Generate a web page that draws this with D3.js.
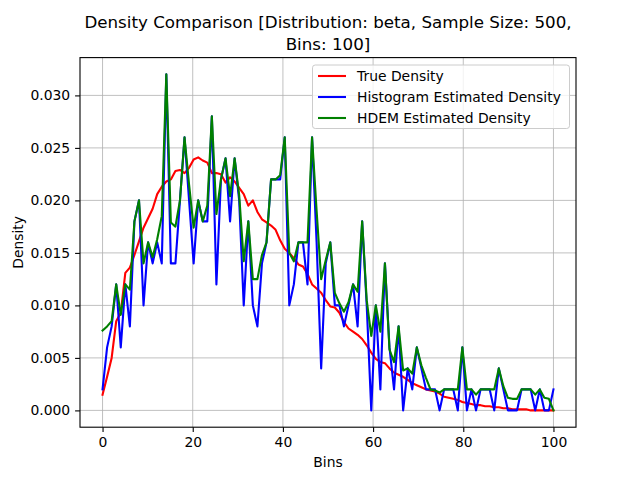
<!DOCTYPE html>
<html>
<head>
<meta charset="utf-8">
<script src="https://cdn.jsdelivr.net/npm/d3@7"></script>
<style>
  body { margin: 0; background: #fff; }
  svg { font-family: "DejaVu Sans", sans-serif; }
</style>
</head>
<body>
<div id="chart"></div>
<script>
// values (100 bins)
const trueDensity = [
  0.0015, 0.0032, 0.0050, 0.0085, 0.0093, 0.0131, 0.0136, 0.0148, 0.0161, 0.0174,
  0.0183, 0.0192, 0.0206, 0.0213, 0.0218, 0.0220, 0.0228, 0.0229, 0.0226, 0.0231,
  0.0239, 0.0241, 0.0238, 0.0236, 0.0226, 0.0226, 0.0225, 0.0217, 0.0222, 0.0218,
  0.0212, 0.0206, 0.0195, 0.0200, 0.0189, 0.0182, 0.0179, 0.0176, 0.0172, 0.0162,
  0.0154, 0.0150, 0.0145, 0.0139, 0.0137, 0.0130, 0.0120, 0.0116, 0.0112, 0.0105,
  0.0099, 0.0098, 0.0093, 0.0084, 0.0078, 0.0075, 0.0072, 0.0068, 0.0062, 0.0055,
  0.0049, 0.0046, 0.0045, 0.0040, 0.0036, 0.0034, 0.0032, 0.0029, 0.0026, 0.0024,
  0.0022, 0.0020, 0.0019, 0.0018, 0.0016, 0.0013, 0.0012, 0.0011, 0.0010, 0.0008,
  0.0007, 0.0006, 0.0005, 0.0005, 0.0004, 0.0004, 0.0003, 0.0003, 0.0002, 0.0002,
  0.0001, 0.0001, 0.0001, 0.0001, 0.0000, 0.0000, 0.0000, 0.0000, 0.0000, 0.0000
];

const histDensity = [
  0.002, 0.006, 0.008, 0.012, 0.006, 0.012, 0.008, 0.018, 0.020, 0.010,
  0.016, 0.014, 0.016, 0.014, 0.032, 0.014, 0.014, 0.020, 0.026, 0.020,
  0.014, 0.020, 0.018, 0.018, 0.028, 0.012, 0.022, 0.024, 0.018, 0.024,
  0.020, 0.010, 0.018, 0.010, 0.008, 0.014, 0.016, 0.022, 0.022, 0.022,
  0.026, 0.010, 0.012, 0.016, 0.016, 0.012, 0.026, 0.016, 0.004, 0.014,
  0.016, 0.010, 0.010, 0.008, 0.010, 0.012, 0.008, 0.018, 0.010, 0.000,
  0.010, 0.002, 0.014, 0.006, 0.002, 0.008, 0.000, 0.004, 0.002, 0.006,
  0.004, 0.002, 0.002, 0.002, 0.000, 0.002, 0.002, 0.002, 0.000, 0.006,
  0.000, 0.002, 0.000, 0.002, 0.002, 0.002, 0.000, 0.004, 0.002, 0.000,
  0.000, 0.000, 0.002, 0.002, 0.002, 0.000, 0.002, 0.000, 0.000, 0.002
];

const hdemDensity = [
  0.0076, 0.0080, 0.0085, 0.0120, 0.0091, 0.0120, 0.0115, 0.0180, 0.0200, 0.0140,
  0.0160, 0.0146, 0.0163, 0.0185, 0.0320, 0.0179, 0.0175, 0.0200, 0.0260, 0.0215,
  0.0174, 0.0200, 0.0180, 0.0195, 0.0280, 0.0187, 0.0220, 0.0240, 0.0204, 0.0240,
  0.0205, 0.0142, 0.0180, 0.0125, 0.0125, 0.0148, 0.0160, 0.0220, 0.0220, 0.0224,
  0.0260, 0.0150, 0.0142, 0.0160, 0.0160, 0.0160, 0.0260, 0.0190, 0.0125, 0.0143,
  0.0160, 0.0112, 0.0102, 0.0094, 0.0103, 0.0120, 0.0113, 0.0180, 0.0105, 0.0071,
  0.0100, 0.0075, 0.0140, 0.0058, 0.0046, 0.0080, 0.0038, 0.0040, 0.0035, 0.0060,
  0.0043, 0.0031, 0.0020, 0.0019, 0.0017, 0.0020, 0.0020, 0.0020, 0.0020, 0.0060,
  0.0020, 0.0020, 0.0015, 0.0020, 0.0020, 0.0020, 0.0020, 0.0040, 0.0023, 0.0012,
  0.0011, 0.0011, 0.0020, 0.0020, 0.0020, 0.0015, 0.0020, 0.0012, 0.0011, 0.0000
];

const xTicks = [0, 20, 40, 60, 80, 100];
const yTicks = [0, 0.005, 0.010, 0.015, 0.020, 0.025, 0.030];
const seriesNames = ['True Density', 'Histogram Estimated Density', 'HDEM Estimated Density'];
const seriesColors = ['red', 'blue', 'green'];

const width = 640;
const height = 480;
const margin = { top: 57.6, right: 64, bottom: 52.8, left: 80 };
const fontPx = 13.9;

// bins plotted on linspace(0, 100, 100)
const bins = d3.range(histDensity.length).map(i => i * 100 / (histDensity.length - 1));

const svg = d3.select('#chart')
  .append('svg')
  .attr('width', width)
  .attr('height', height)
  .attr('viewBox', `0 0 ${width} ${height}`);

const x = d3.scaleLinear()
  .domain([-5, 105])
  .range([margin.left, width - margin.right]);

const y = d3.scaleLinear()
  .domain([-0.0016, 0.0336])
  .range([height - margin.bottom, margin.top]);

// grid
svg.append('g')
  .selectAll('line')
  .data(xTicks).enter()
  .append('line')
  .attr('x1', d => x(d)).attr('x2', d => x(d))
  .attr('y1', margin.top).attr('y2', height - margin.bottom)
  .attr('stroke', '#b0b0b0').attr('stroke-width', 0.8);

svg.append('g')
  .selectAll('line')
  .data(yTicks).enter()
  .append('line')
  .attr('x1', margin.left).attr('x2', width - margin.right)
  .attr('y1', d => y(d)).attr('y2', d => y(d))
  .attr('stroke', '#b0b0b0').attr('stroke-width', 0.8);

// lines
const line = d3.line()
  .x((d, i) => x(bins[i]))
  .y(d => y(d));

[trueDensity, histDensity, hdemDensity].forEach((s, i) => {
  svg.append('path')
    .datum(s)
    .attr('fill', 'none')
    .attr('stroke', seriesColors[i])
    .attr('stroke-width', 2.1)
    .attr('stroke-linejoin', 'round')
    .attr('stroke-linecap', 'square')
    .attr('d', line);
});

// axes
const xAxis = svg.append('g')
  .attr('transform', `translate(0, ${height - margin.bottom})`)
  .call(d3.axisBottom(x).tickValues(xTicks).tickSize(4.9).tickPadding(4.9).tickFormat(d3.format('d')));

const yAxis = svg.append('g')
  .attr('transform', `translate(${margin.left}, 0)`)
  .call(d3.axisLeft(y).tickValues(yTicks).tickSize(4.9).tickPadding(4.9).tickFormat(d3.format('.3f')));

[xAxis, yAxis].forEach(a => {
  a.select('.domain').remove();
  a.selectAll('line').attr('stroke', '#000').attr('stroke-width', 1.1);
  a.selectAll('text')
    .attr('fill', '#000')
    .attr('font-size', fontPx)
    .attr('font-family', '"DejaVu Sans", sans-serif');
});

// frame
svg.append('rect')
  .attr('x', margin.left).attr('y', margin.top)
  .attr('width', width - margin.left - margin.right)
  .attr('height', height - margin.top - margin.bottom)
  .attr('fill', 'none')
  .attr('stroke', '#000')
  .attr('stroke-width', 1.1);

// title
const cx = (margin.left + width - margin.right) / 2;
const title = svg.append('text')
  .attr('x', cx)
  .attr('text-anchor', 'middle')
  .attr('font-size', 16.7)
  .attr('fill', '#000');
title.append('tspan').attr('x', cx).attr('y', 28)
  .text('Density Comparison [Distribution: beta, Sample Size: 500,');
title.append('tspan').attr('x', cx).attr('y', 49.5)
  .text('Bins: 100]');

// axis labels
svg.append('text')
  .attr('x', cx).attr('y', 467)
  .attr('text-anchor', 'middle')
  .attr('font-size', fontPx)
  .text('Bins');

svg.append('text')
  .attr('transform', `translate(23, ${(margin.top + height - margin.bottom) / 2}) rotate(-90)`)
  .attr('text-anchor', 'middle')
  .attr('font-size', fontPx)
  .text('Density');

// legend
const legend = svg.append('g')
  .attr('transform', 'translate(312.5, 65)');

legend.append('rect')
  .attr('width', 257).attr('height', 63.5)
  .attr('rx', 2.8)
  .attr('fill', '#fff').attr('fill-opacity', 0.8)
  .attr('stroke', '#cccccc').attr('stroke-width', 1);

const item = legend.selectAll('.item')
  .data(seriesNames).enter()
  .append('g')
  .attr('transform', (d, i) => `translate(0, ${11 + i * 21})`);

item.append('line')
  .attr('x1', 5.5).attr('x2', 33.5)
  .attr('stroke', (d, i) => seriesColors[i])
  .attr('stroke-width', 2.1);

item.append('text')
  .attr('x', 44.5).attr('y', 5)
  .attr('font-size', fontPx)
  .attr('fill', '#000')
  .text(d => d);
</script>
</body>
</html>
